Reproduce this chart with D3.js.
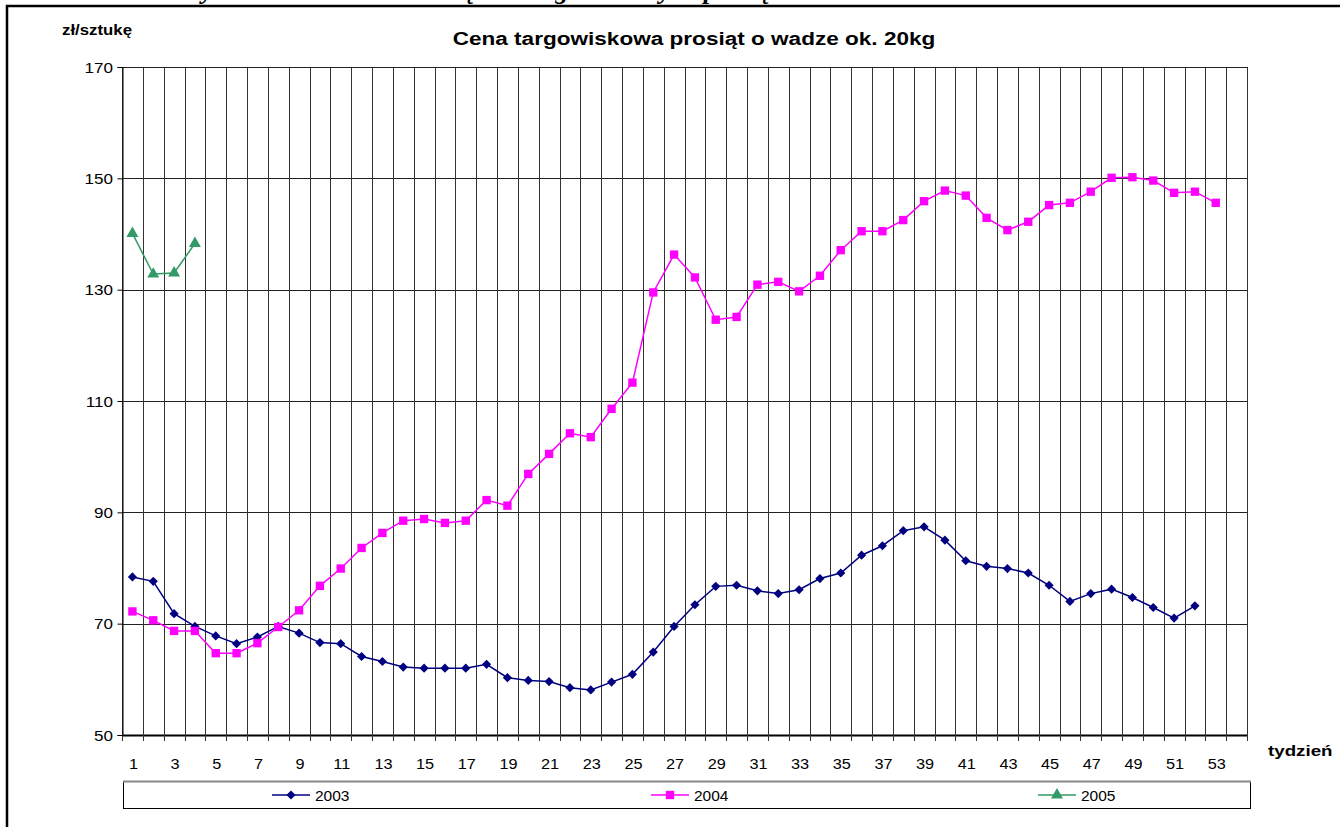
<!DOCTYPE html>
<meta charset="utf-8">
<style type="text/css">
  body { margin: 0; background: #fff; }
  svg { display: block; font-family: Arial, "Liberation Sans", sans-serif; }
</style>
<svg width="1340" height="827"></svg>
<script src="https://d3js.org/d3.v7.min.js"></script>
<script>

// tygodnie 1..54 (kategorie osi X)
var weeks = d3.range(1, 55);
var weekLabels = weeks.filter(function(w){ return w % 2 === 1; });
var yTicks = [50, 70, 90, 110, 130, 150, 170];

var years = ["2003", "2004", "2005"];

var values2003 = [78.4, 77.6, 71.8, 69.5, 67.8, 66.4, 67.6, 69.5, 68.3, 66.6,
                  66.4, 64.1, 63.2, 62.2, 62.0, 62.0, 62.0, 62.7, 60.3, 59.8,
                  59.6, 58.5, 58.1, 59.5, 60.9, 64.9, 69.5, 73.4, 76.7, 76.9,
                  75.9, 75.4, 76.1, 78.1, 79.1, 82.3, 84.0, 86.7, 87.4, 85.0,
                  81.3, 80.3, 79.9, 79.1, 76.9, 74.0, 75.4, 76.2, 74.7, 72.9,
                  71.0, 73.2];
var values2004 = [72.2, 70.6, 68.7, 68.7, 64.7, 64.7, 66.5, 69.4, 72.4, 76.8,
                  79.9, 83.6, 86.3, 88.5, 88.8, 88.1, 88.5, 92.2, 91.2, 96.9,
                  100.5, 104.2, 103.5, 108.6, 113.3, 129.5, 136.3, 132.2, 124.6, 125.1,
                  130.9, 131.4, 129.7, 132.5, 137.1, 140.5, 140.5, 142.5, 145.9, 147.8,
                  146.9, 142.9, 140.7, 142.2, 145.2, 145.6, 147.6, 150.1, 150.2, 149.6,
                  147.4, 147.6, 145.6];
var values2005 = [140.1, 132.8, 133.0, 138.3];

var svg = d3.select("svg");

var plotLeft = 122, plotRight = 1247, plotTop = 67, plotBottom = 735;

var x = d3.scaleBand().domain(weeks).range([plotLeft, plotRight]).padding(0);
var y = d3.scaleLinear().domain([50, 170]).range([plotBottom, plotTop]);

var color = d3.scaleOrdinal().domain(years).range(["#000080", "#ff00ff", "#339966"]);
// 2003: kwadrat obrócony o 45° (romb jak w Excelu)
var symbols = d3.scaleOrdinal().domain(years)
    .range([d3.symbolSquare, d3.symbolSquare, d3.symbolTriangle]);
var sizes = { "2003": 42, "2004": 70, "2005": 62 };
var rotations = { "2003": 45, "2004": 0, "2005": 0 };

// tekst lekko rozciągnięty w poziomie, jak w oryginale
function wideText(g, tx, ty, str, size, sx, anchor) {
  return g.append("text")
      .attr("transform", "translate(" + tx + "," + ty + ") scale(" + sx + ",1)")
      .attr("text-anchor", anchor || "start")
      .attr("font-size", size)
      .text(str);
}

// nagłówek strony, ucięty u góry
svg.append("text")
    .attr("x", 180).attr("y", -1)
    .attr("font-family", "'Liberation Serif', 'DejaVu Serif', serif")
    .attr("font-style", "italic").attr("font-weight", "bold")
    .attr("font-size", 26)
    .text("Wykres 3. Kształtowanie się cen targowiskowych prosiąt w Polsce w latach 2003-2005");

// ramka
svg.append("path")
    .attr("d", "M7,827 V6 H1340")
    .attr("fill", "none").attr("stroke", "#000").attr("stroke-width", 2.5);

// siatka pozioma
svg.append("g").selectAll("line")
  .data(yTicks)
  .join("line")
    .attr("x1", plotLeft).attr("x2", plotRight)
    .attr("y1", function(d){ return Math.round(y(d)) + 0.5; })
    .attr("y2", function(d){ return Math.round(y(d)) + 0.5; })
    .attr("stroke", function(d){ return d === 50 ? "#000" : "#222"; })
    .attr("stroke-width", function(d){ return d === 50 ? 2 : 1; });

// siatka pionowa
var bounds = weeks.map(function(w){ return x(w); }).concat([plotRight]);
svg.append("g").selectAll("line")
  .data(bounds)
  .join("line")
    .attr("x1", function(d){ return Math.round(d) + 0.5; })
    .attr("x2", function(d){ return Math.round(d) + 0.5; })
    .attr("y1", plotTop).attr("y2", plotBottom + 6)
    .attr("stroke", "#333").attr("stroke-width", 1);

// oś Y
var yAxis = svg.append("g")
    .attr("transform", "translate(" + (plotLeft + 0.5) + ",0)")
    .call(d3.axisLeft(y).tickValues(yTicks).tickSize(5).tickFormat(""));
yAxis.select(".domain").attr("stroke", "#000");

var yLabels = svg.append("g");
yTicks.forEach(function(v){
  wideText(yLabels, 113, y(v) + 5.5, v, 15.5, 1.1, "end");
});

// etykiety osi X
var xLabels = svg.append("g");
weekLabels.forEach(function(w){
  wideText(xLabels, x(w) + x.bandwidth() / 2 + 1, 769, w, 15.5, 1.05, "middle");
});

// tytuły
wideText(svg, 694, 45, "Cena targowiskowa prosiąt o wadze ok. 20kg", 18.5, 1.22, "middle")
    .attr("font-weight", "bold");

wideText(svg, 62, 35, "zł/sztukę", 14, 1.2)
    .attr("font-weight", "bold");

wideText(svg, 1268, 756, "tydzień", 15, 1.25)
    .attr("font-weight", "bold");

// serie
var series = [
  { year: "2003", values: values2003 },
  { year: "2004", values: values2004 },
  { year: "2005", values: values2005 }
];

var line = d3.line()
    .x(function(d, i){ return x(weeks[i]) + x.bandwidth() / 2; })
    .y(function(d){ return y(d); });

series.forEach(function(s){
  var g = svg.append("g");
  g.append("path")
      .attr("d", line(s.values))
      .attr("fill", "none")
      .attr("stroke", color(s.year))
      .attr("stroke-width", 1.5);
  g.selectAll("path.pt")
    .data(s.values)
    .join("path")
      .attr("class", "pt")
      .attr("transform", function(d, i){
        return "translate(" + (x(weeks[i]) + x.bandwidth() / 2) + "," + y(d) + ") rotate(" + rotations[s.year] + ")";
      })
      .attr("d", d3.symbol().type(symbols(s.year)).size(sizes[s.year]))
      .attr("fill", color(s.year));
});

// legenda
var legend = svg.append("g");
legend.append("rect")
    .attr("x", 123.5).attr("y", 781.5)
    .attr("width", 1127).attr("height", 27)
    .attr("fill", "#fff").attr("stroke", "#000");
legend.append("line")
    .attr("x1", 123).attr("x2", 1251).attr("y1", 781.5).attr("y2", 781.5)
    .attr("stroke", "#888").attr("stroke-width", 2);

var legendX = { "2003": 272, "2004": 651, "2005": 1038 };
years.forEach(function(yr){
  var lx = legendX[yr], ly = 795;
  legend.append("line")
      .attr("x1", lx).attr("x2", lx + 38).attr("y1", ly).attr("y2", ly)
      .attr("stroke", color(yr)).attr("stroke-width", 1.5);
  legend.append("path")
      .attr("transform", "translate(" + (lx + 19) + "," + ly + ") rotate(" + rotations[yr] + ")")
      .attr("d", d3.symbol().type(symbols(yr)).size(sizes[yr]))
      .attr("fill", color(yr));
  wideText(legend, lx + 43, ly + 5.5, yr, 15.5, 1.0);
});

</script>
